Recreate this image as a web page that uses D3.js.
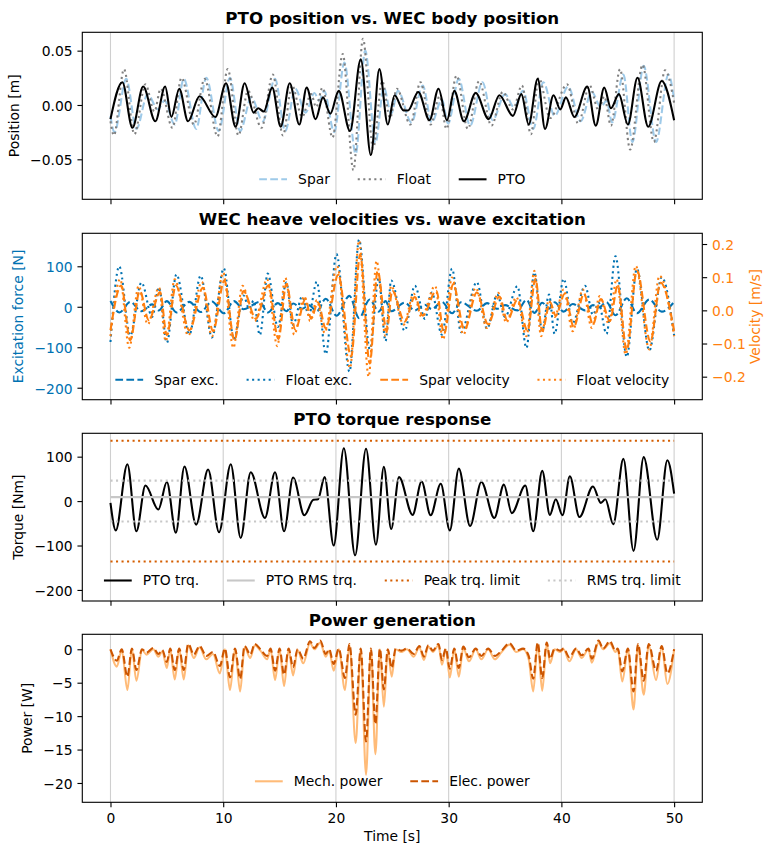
<!DOCTYPE html>
<html><head><meta charset="utf-8">
<script src="https://cdn.jsdelivr.net/npm/d3@7"></script>
<style>
body{margin:0;background:#fff;}
svg text{font-family:"DejaVu Sans",sans-serif;}
</style></head><body>
<svg id="c" width="774" height="855"></svg>
<script>
// ---------------- DATA ----------------
const timeTicks = [0, 10, 20, 30, 40, 50];
const posTicks = [-0.05, 0, 0.05];
const forceTicks = [-200, -100, 0, 100];
const velTicks = [-0.2, -0.1, 0, 0.1, 0.2];
const torqueTicks = [-200, -100, 0, 100];
const powerTicks = [-20, -15, -10, -5, 0];

// Panel 1: positions [t (s), m]
const sparPos = [[0,-0.010],[0.35,-0.025],[1.4,0.024],[2.3,-0.022],[3.3,0.010],[4.2,-0.004],[4.8,0.004],[5.7,-0.018],[6.5,0.024],[7.6,-0.022],[8.5,0.025],[9.6,-0.024],[10.6,0.025],[11.5,-0.024],[12.5,0.007],[13.5,-0.015],[14.6,0.024],[15.5,-0.024],[16.4,0.015],[17.3,-0.007],[18.1,0.011],[18.5,0.004],[18.95,0.013],[19.85,-0.025],[20.75,0.039],[21.75,-0.045],[22.6,0.050],[23.5,-0.035],[24.25,0.016],[24.9,-0.008],[25.5,0.013],[26.7,-0.016],[27.7,0.018],[28.5,-0.016],[29.4,0.005],[29.95,-0.017],[30.9,0.024],[31.9,-0.019],[33.0,0.021],[33.9,-0.014],[35.0,0.010],[35.8,-0.002],[36.6,0.013],[37.5,-0.022],[38.4,0.021],[39.4,-0.010],[40.6,0.017],[41.7,-0.015],[42.7,0.012],[43.5,-0.002],[44.0,0.004],[44.5,-0.016],[45.5,0.028],[46.3,-0.034],[47.3,0.036],[48.4,-0.034],[49.5,0.028],[50,0.005]];
const floatPos = [[0,-0.015],[0.3,-0.028],[1.2,0.033],[2.12,-0.027],[3.1,0.019],[3.9,-0.006],[4.45,0.015],[5.5,-0.021],[6.3,0.025],[7.4,-0.018],[8.35,0.024],[9.5,-0.029],[10.4,0.033],[11.35,-0.028],[12.2,0.013],[13.4,-0.021],[14.4,0.028],[15.3,-0.028],[16.1,0.018],[17.0,-0.011],[17.8,0.010],[18.25,-0.002],[18.8,0.016],[19.7,-0.030],[20.6,0.047],[21.55,-0.060],[22.4,0.061],[23.3,-0.040],[24.1,0.022],[24.8,-0.012],[25.4,0.015],[26.6,-0.018],[27.5,0.021],[28.4,-0.018],[29.2,0.008],[29.8,-0.022],[30.7,0.027],[31.7,-0.022],[32.7,0.022],[33.8,-0.019],[34.8,0.012],[35.7,-0.004],[36.5,0.018],[37.3,-0.027],[38.0,0.025],[39.0,-0.012],[40.5,0.019],[41.5,-0.017],[42.5,0.018],[43.3,-0.005],[43.8,0.008],[44.4,-0.019],[45.2,0.033],[46.1,-0.041],[47.2,0.037],[48.2,-0.034],[49.2,0.032],[50,0.002]];
const ptoPos = [[0,-0.013],[1.05,0.021],[1.95,-0.021],[2.9,0.017],[3.98,-0.015],[4.85,0.017],[5.4,-0.011],[6.1,0.015],[6.88,-0.015],[7.9,0.008],[9.3,-0.011],[10.25,0.020],[11.1,-0.020],[11.9,0.020],[12.7,-0.007],[13.1,-0.003],[13.6,-0.006],[14.35,0.016],[15.1,-0.020],[15.9,0.020],[16.75,-0.018],[17.4,0.016],[18.2,-0.013],[18.85,0.007],[19.5,-0.008],[20.25,0.013],[21.25,-0.024],[22.2,0.042],[23.1,-0.046],[23.85,0.033],[24.6,-0.018],[25.2,0.009],[26.0,-0.005],[26.4,-0.005],[27.3,0.012],[28.3,-0.014],[29.1,0.015],[29.85,-0.014],[30.5,0.013],[31.35,-0.015],[32.4,0.011],[33.55,-0.013],[34.5,0.009],[35.7,-0.010],[36.45,0.010],[37.1,-0.018],[37.9,0.024],[38.55,-0.022],[39.3,0.009],[39.9,-0.004],[40.4,0.007],[41.15,-0.011],[42.3,0.017],[43.05,-0.019],[43.8,0.016],[44.4,-0.003],[45.1,0.010],[45.9,-0.018],[46.75,0.025],[47.7,-0.020],[48.9,0.022],[50,-0.014]];

// Panel 2: excitation forces [t, N] and velocities [t, m/s]
const sparExc = [[0,14],[0.8,-14],[1.75,12],[2.75,-11],[3.7,6],[4.3,-9],[5.0,14],[5.85,-14],[7.0,12],[8.0,-13],[9.0,13],[10.05,-16],[10.95,14],[11.8,-6],[13.25,12],[13.95,-14],[14.85,9],[15.6,-11],[16.2,8],[17.0,-5],[17.6,4],[18.3,-11],[19.1,20],[20.05,-22],[21.2,27],[22.05,-28],[23.0,18],[23.8,-12],[24.4,14],[24.9,-11],[26.1,10],[27.0,-9],[27.9,5],[28.5,-6],[29.4,12],[30.3,-16],[31.1,11],[32.5,-10],[33.4,9],[34.3,-5],[35.0,4],[36.1,-9],[36.9,17],[37.6,-15],[38.3,10],[38.9,-5],[39.4,11],[40.2,-12],[41.0,7],[42.1,-9],[42.8,4],[43.3,-2],[44.0,11],[44.8,-21],[45.8,21],[46.7,-16],[47.8,18],[48.9,-12],[50,12]];
const floatExc = [[0,-87],[0.78,100],[1.75,-71],[2.75,60],[3.7,-25],[4.3,48],[5.0,-89],[5.85,80],[7.0,-68],[8.0,77],[9.0,-76],[10.05,95],[10.95,-80],[11.8,28],[12.3,-5],[12.7,15],[13.25,-70],[13.95,82],[14.85,-50],[15.6,60],[16.2,-45],[17.0,25],[17.6,-20],[18.3,62],[19.1,-117],[20.05,130],[21.2,-160],[22.05,166],[23.0,-105],[23.8,70],[24.4,-85],[24.9,65],[26.1,-59],[27.0,52],[27.9,-30],[28.5,35],[29.4,-69],[30.3,94],[31.1,-63],[32.5,61],[33.4,-54],[34.3,30],[35.0,-25],[36.1,51],[36.9,-102],[37.6,85],[38.3,-60],[38.9,30],[39.4,-67],[40.2,69],[41.0,-40],[42.1,52],[42.8,-20],[43.3,10],[44.0,-67],[44.8,125],[45.8,-124],[46.7,94],[47.8,-108],[48.9,73],[50,-71]];
const sparVel = [[0,-0.06],[0.95,0.075],[1.75,-0.09],[2.6,0.058],[3.4,-0.03],[4.4,0.055],[5.0,-0.075],[5.8,0.075],[7.0,-0.06],[8.2,0.068],[9.1,-0.062],[10.1,0.09],[11.0,-0.09],[11.8,0.058],[12.9,-0.025],[14.0,0.075],[14.9,-0.086],[15.6,0.079],[16.4,-0.058],[17.3,0.034],[17.8,-0.025],[18.4,0.024],[19.1,-0.054],[20.2,0.107],[21.35,-0.139],[22.15,0.168],[23.0,-0.16],[23.7,0.119],[24.5,-0.062],[25.0,0.059],[26.1,-0.034],[27.0,0.04],[27.7,-0.016],[28.9,0.059],[29.6,-0.07],[30.4,0.079],[31.4,-0.058],[32.5,0.054],[33.5,-0.042],[34.5,0.042],[35.2,-0.03],[36.1,0.032],[37.0,-0.062],[37.7,0.095],[38.3,-0.062],[39.0,0.024],[39.5,-0.016],[40.3,0.05],[41.1,-0.05],[42.0,0.05],[42.8,-0.042],[43.5,0.034],[44.3,-0.032],[45.0,0.075],[45.8,-0.12],[46.7,0.12],[47.9,-0.094],[48.8,0.083],[50,-0.062]];
const floatVel = [[0,-0.078],[0.86,0.094],[1.66,-0.113],[2.5,0.074],[3.3,-0.042],[4.3,0.069],[4.9,-0.093],[5.7,0.094],[6.9,-0.076],[8.1,0.086],[9.0,-0.078],[10.0,0.114],[10.9,-0.113],[11.7,0.074],[12.8,-0.032],[13.9,0.094],[14.8,-0.108],[15.5,0.099],[16.3,-0.073],[17.2,0.043],[17.7,-0.032],[18.3,0.03],[19.0,-0.068],[20.1,0.134],[21.25,-0.174],[22.05,0.21],[22.9,-0.2],[23.6,0.149],[24.4,-0.078],[24.9,0.074],[26.0,-0.043],[26.9,0.05],[27.6,-0.02],[28.8,0.074],[29.5,-0.088],[30.3,0.099],[31.3,-0.073],[32.4,0.068],[33.4,-0.053],[34.4,0.053],[35.1,-0.037],[36.0,0.04],[36.9,-0.078],[37.6,0.119],[38.2,-0.078],[38.9,0.03],[39.4,-0.02],[40.2,0.063],[41.0,-0.063],[41.9,0.063],[42.7,-0.053],[43.4,0.043],[44.2,-0.04],[44.9,0.094],[45.7,-0.133],[46.6,0.134],[47.8,-0.118],[48.7,0.104],[50,-0.078]];

// Panel 3: torque [t, Nm]
const ptoTorque = [[0,-4],[0.47,-66],[1.5,83],[2.3,-68],[3.1,35],[4.25,-19],[5.0,43],[5.8,-71],[6.56,78],[7.6,-53],[8.66,71],[9.63,-70],[10.67,83],[11.55,-83],[12.44,65],[13.7,-38],[14.6,65],[15.4,-68],[16.2,53],[17.2,-32],[18.0,3],[18.4,4],[19.0,54],[19.8,-100],[20.7,119],[21.7,-122],[22.67,118],[23.55,-98],[24.25,77],[24.9,-63],[25.6,54],[26.8,-31],[27.6,44],[28.4,-32],[29.3,39],[30.1,-66],[30.9,73],[31.9,-56],[32.9,43],[34.05,-38],[34.9,37],[35.6,-27],[36.8,35],[37.5,-68],[38.3,68],[38.98,-31],[39.5,4],[40.1,-32],[40.75,56],[41.6,-36],[42.8,33],[43.5,-4],[43.9,4],[44.6,-52],[45.5,95],[46.4,-112],[47.3,99],[48.5,-87],[49.4,92],[50,17]];
const ptoRmsTorque = 9;
const peakTorqueLimit = 136;
const rmsTorqueLimit = 46;
const limitSpan = [0, 50];

// Panel 4: power [t, W]
const mechPower = [[0,0],[0.56,-2.6],[1.0,-0.1],[1.5,-6.1],[1.9,0],[2.3,-4.7],[2.8,-0.1],[3.2,-0.8],[3.8,0],[4.25,-1.1],[4.6,-0.3],[5.0,-2.8],[5.3,0],[5.7,-4.5],[6.1,0],[6.5,-4.5],[6.9,0.6],[7.4,-1.3],[7.9,0.3],[8.5,-1.5],[9.1,-0.7],[9.7,-3.6],[10.15,0],[10.6,-6.1],[11.05,0],[11.5,-6.3],[11.9,0.3],[12.4,-1.3],[12.8,0.6],[13.3,-0.2],[13.9,-1.5],[14.2,0],[14.6,-4.6],[15.0,0],[15.4,-5.5],[15.8,0],[16.2,-3.9],[16.6,-0.1],[17.1,-2.1],[17.7,0.9],[18.1,0],[18.6,1.0],[19.1,-1.1],[19.4,-0.2],[19.8,-3.2],[20.25,0],[20.8,-6.1],[21.2,0.6],[21.75,-14],[22.2,0],[22.67,-18.8],[23.1,0],[23.5,-15.7],[23.9,0],[24.25,-8.6],[24.6,-0.2],[24.95,-4.1],[25.3,0],[25.8,-0.4],[26.3,0],[26.9,-1.1],[27.4,0.3],[27.8,-1.6],[28.2,0.4],[28.6,-0.4],[29.1,0.6],[29.4,-2.3],[29.75,0],[30.1,-4.2],[30.5,0],[30.9,-4.1],[31.3,0.2],[31.8,-1.8],[32.4,0],[32.9,-1.5],[33.5,0],[34.1,-1.5],[34.7,-0.4],[35.4,0.7],[36.0,-0.4],[36.6,0],[37.1,-1.5],[37.5,-6.3],[37.9,0.8],[38.3,-6.2],[38.7,0.8],[39.0,-2.1],[39.4,0],[39.9,-0.4],[40.2,0],[40.7,-1.8],[41.3,0],[41.8,-1.3],[42.4,0],[42.7,-2.0],[43.3,1.0],[43.7,0],[44.3,0.9],[44.8,-0.4],[45.0,0],[45.4,-4.8],[45.9,0],[46.4,-9.0],[46.8,0.6],[47.3,-6.8],[47.75,0.6],[48.4,-4.6],[48.9,0.3],[49.4,-5.2],[50,0]];
const elecPower = [[0,0],[0.56,-1.7],[1.0,0],[1.5,-4.1],[1.9,0.1],[2.3,-3.1],[2.8,0],[3.2,-0.5],[3.8,0.2],[4.25,-0.7],[4.6,-0.1],[5.0,-1.9],[5.3,0.1],[5.7,-3.1],[6.1,0.1],[6.5,-3.1],[6.9,0.8],[7.4,-0.8],[7.9,0.5],[8.5,-1.0],[9.1,-0.4],[9.7,-2.5],[10.15,0.1],[10.6,-4.2],[11.05,0.1],[11.5,-4.4],[11.9,0.5],[12.4,-0.8],[12.8,0.8],[13.3,0],[13.9,-1.0],[14.2,0.1],[14.6,-3.2],[15.0,0.1],[15.4,-3.8],[15.8,0.1],[16.2,-2.7],[16.6,0],[17.1,-1.4],[17.7,1.2],[18.1,0.2],[18.6,1.3],[19.1,-0.7],[19.4,0],[19.8,-2.2],[20.25,0.1],[20.8,-4.3],[21.2,0.8],[21.75,-9.8],[22.2,0.1],[22.67,-13.8],[23.1,0.1],[23.5,-11.2],[23.9,0.1],[24.25,-6.0],[24.6,0],[24.95,-2.8],[25.3,0.1],[25.8,-0.2],[26.3,0.1],[26.9,-0.7],[27.4,0.5],[27.8,-1.1],[28.2,0.6],[28.6,-0.2],[29.1,0.8],[29.4,-1.6],[29.75,0.1],[30.1,-2.9],[30.5,0.1],[30.9,-2.8],[31.3,0.4],[31.8,-1.2],[32.4,0.1],[32.9,-1.0],[33.5,0.1],[34.1,-1.0],[34.7,-0.2],[35.4,0.9],[36.0,-0.2],[36.6,0.1],[37.1,-1.0],[37.5,-4.4],[37.9,1.0],[38.3,-4.3],[38.7,1.0],[39.0,-1.4],[39.4,0.1],[39.9,-0.2],[40.2,0.1],[40.7,-1.2],[41.3,0.1],[41.8,-0.9],[42.4,0.1],[42.7,-1.4],[43.3,1.3],[43.7,0.1],[44.3,1.2],[44.8,-0.2],[45.0,0.1],[45.4,-3.3],[45.9,0.1],[46.4,-6.3],[46.8,0.8],[47.3,-4.7],[47.75,0.8],[48.4,-3.2],[48.9,0.5],[49.4,-3.6],[50,0]];

// ---------------- LAYOUT / STYLE ----------------
const svg = d3.select('#c');
const L = 82.3, R = 702.3, CX = (L + R) / 2;
const FS = 13.89, TFS = 16.67, LW = 2.08, SPW = 1.11;
const DASH = '7.7,3.33', DOT = '2.08,3.44';
const BLUE = '#0072b2', ORANGE = '#ff7f0e';
const C = { spar:'#9ecae9', float:'#7f7f7f', pto:'#000000', rms:'#c7c7c7', limit:'#d55e00', mech:'#ffbb78', elec:'#cc5500' };

const x = d3.scaleLinear().domain([-2.5, 52.5]).range([L, R]);
const P = [
  { top:32.3, bot:199.3, title:'PTO position vs. WEC body position', ylab:'Position [m]', labX:19.2 },
  { top:233.3, bot:399.7, title:'WEC heave velocities vs. wave excitation', ylab:'Excitation force [N]', labX:22.6 },
  { top:433.3, bot:601, title:'PTO torque response', ylab:'Torque [Nm]', labX:22.6 },
  { top:634.3, bot:802.3, title:'Power generation', ylab:'Power [W]', labX:31.8 }
];
const y1 = d3.scaleLinear().domain([-0.0868, 0.0669]).range([P[0].bot, P[0].top]);
const y2 = d3.scaleLinear().domain([-229.6, 181.5]).range([P[1].bot, P[1].top]);
const y2r = d3.scaleLinear().domain([-0.2694, 0.2323]).range([P[1].bot, P[1].top]);
const y3 = d3.scaleLinear().domain([-224.9, 152.6]).range([P[2].bot, P[2].top]);
const y4 = d3.scaleLinear().domain([-22.89, 2.24]).range([P[3].bot, P[3].top]);
const yS = [y1, y2, y3, y4];
const yT = [posTicks, forceTicks, torqueTicks, powerTicks];
const yF = [d3.format('.2f'), d3.format('d'), d3.format('d'), d3.format('d')];

function styleAxis(g, color) {
  g.attr('font-size', FS).attr('font-family', 'DejaVu Sans');
  g.select('.domain').remove();
  g.selectAll('.tick line').attr('stroke', '#000').attr('stroke-width', SPW);
  g.selectAll('.tick text').attr('fill', color || '#000');
}

P.forEach((p, i) => {
  const g = svg.append('g');
  svg.append('clipPath').attr('id', 'clip' + i).append('rect')
    .attr('x', L).attr('y', p.top).attr('width', R - L).attr('height', p.bot - p.top);
  g.selectAll('.grid').data(timeTicks).enter().append('line')
    .attr('x1', d => x(d)).attr('x2', d => x(d)).attr('y1', p.top).attr('y2', p.bot)
    .attr('stroke', '#cfcfcf').attr('stroke-width', 1.1);
  const xa = svg.append('g').attr('transform', `translate(0,${p.bot})`)
    .call(d3.axisBottom(x).tickValues(timeTicks).tickSize(4.86).tickPadding(4.86).tickFormat(i === 3 ? d3.format('d') : ''));
  styleAxis(xa);
  xa.selectAll('.tick text').attr('dy', '0.81em');
  const ya = svg.append('g').attr('transform', `translate(${L},0)`)
    .call(d3.axisLeft(yS[i]).tickValues(yT[i]).tickSize(4.86).tickPadding(4.86).tickFormat(yF[i]));
  styleAxis(ya, i === 1 ? BLUE : '#000');
  ya.selectAll('.tick text').attr('dy', '0.38em');
  svg.append('text').attr('x', CX).attr('y', p.top - 8.3).attr('text-anchor', 'middle')
    .attr('font-size', TFS).attr('font-weight', 'bold').text(p.title);
  svg.append('text').attr('transform', `translate(${p.labX},${(p.top + p.bot) / 2}) rotate(-90)`)
    .attr('text-anchor', 'middle').attr('font-size', FS).attr('fill', i === 1 ? BLUE : '#000').text(p.ylab);
  p.g = svg.append('g').attr('clip-path', `url(#clip${i})`);
});

const ra = svg.append('g').attr('transform', `translate(${R},0)`)
  .call(d3.axisRight(y2r).tickValues(velTicks).tickSize(4.86).tickPadding(4.86).tickFormat(d3.format('.1f')));
styleAxis(ra, ORANGE);
ra.selectAll('.tick text').attr('dy', '0.38em');
svg.append('text').attr('transform', `translate(759.8,${(P[1].top + P[1].bot) / 2}) rotate(-90)`)
  .attr('text-anchor', 'middle').attr('font-size', FS).attr('fill', ORANGE).text('Velocity [m/s]');
svg.append('text').attr('x', CX).attr('y', 841).attr('text-anchor', 'middle').attr('font-size', FS).text('Time [s]');

function path(g, data, ys, color, dash, w) {
  const ln = d3.line().x(d => x(d[0])).y(d => ys(d[1])).curve(d3.curveMonotoneX);
  g.append('path').datum(data).attr('d', ln).attr('fill', 'none').attr('stroke', color)
    .attr('stroke-width', w || LW).attr('stroke-dasharray', dash || null)
    .attr('stroke-linejoin', 'round');
}
function hline(g, v, ys, color, dash) {
  g.append('line').attr('x1', x(limitSpan[0])).attr('x2', x(limitSpan[1]))
    .attr('y1', ys(v)).attr('y2', ys(v)).attr('stroke', color).attr('stroke-width', LW)
    .attr('stroke-dasharray', dash || null);
}

path(P[0].g, sparPos, y1, C.spar, DASH);
path(P[0].g, floatPos, y1, C.float, DOT);
path(P[0].g, ptoPos, y1, C.pto);
path(P[1].g, sparExc, y2, BLUE, DASH);
path(P[1].g, floatExc, y2, BLUE, DOT);
path(P[1].g, sparVel, y2r, ORANGE, DASH);
path(P[1].g, floatVel, y2r, ORANGE, DOT);
path(P[2].g, ptoTorque, y3, '#000');
hline(P[2].g, ptoRmsTorque, y3, C.rms);
hline(P[2].g, peakTorqueLimit, y3, C.limit, DOT);
hline(P[2].g, -peakTorqueLimit, y3, C.limit, DOT);
hline(P[2].g, rmsTorqueLimit, y3, C.rms, DOT);
hline(P[2].g, -rmsTorqueLimit, y3, C.rms, DOT);
path(P[3].g, mechPower, y4, C.mech);
path(P[3].g, elecPower, y4, C.elec, DASH);

P.forEach(p => {
  svg.append('rect').attr('x', L).attr('y', p.top).attr('width', R - L).attr('height', p.bot - p.top)
    .attr('fill', 'none').attr('stroke', '#000').attr('stroke-width', SPW);
});

function legend(items, ly) {
  const g = svg.append('g');
  const hl = 27.8, tp = 11.1, cs = 27.8;
  const texts = items.map(it => g.append('text').attr('font-size', FS).text(it.label));
  const widths = texts.map(t => t.node().getComputedTextLength());
  const total = d3.sum(widths) + items.length * (hl + tp) + (items.length - 1) * cs;
  let xx = CX - total / 2;
  items.forEach((it, i) => {
    g.append('line').attr('x1', xx).attr('x2', xx + hl).attr('y1', ly).attr('y2', ly)
      .attr('stroke', it.color).attr('stroke-width', LW).attr('stroke-dasharray', it.dash || null);
    texts[i].attr('x', xx + hl + tp).attr('y', ly + 4.8);
    xx += hl + tp + widths[i] + cs;
  });
}
legend([{label:'Spar', color:C.spar, dash:DASH}, {label:'Float', color:C.float, dash:DOT}, {label:'PTO', color:C.pto}], P[0].bot - 20);
legend([{label:'Spar exc.', color:BLUE, dash:DASH}, {label:'Float exc.', color:BLUE, dash:DOT},
        {label:'Spar velocity', color:ORANGE, dash:DASH}, {label:'Float velocity', color:ORANGE, dash:DOT}], P[1].bot - 20);
legend([{label:'PTO trq.', color:'#000'}, {label:'PTO RMS trq.', color:C.rms},
        {label:'Peak trq. limit', color:C.limit, dash:DOT}, {label:'RMS trq. limit', color:C.rms, dash:DOT}], P[2].bot - 20.5);
legend([{label:'Mech. power', color:C.mech}, {label:'Elec. power', color:C.elec, dash:DASH}], P[3].bot - 21);
</script>
</body></html>
